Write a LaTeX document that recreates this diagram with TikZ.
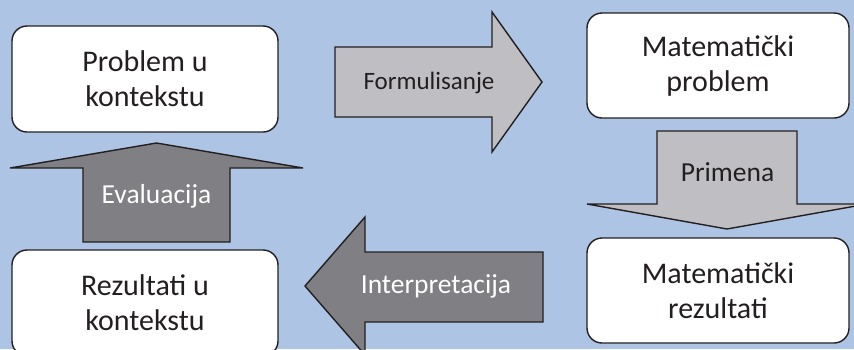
\documentclass[tikz,border=0pt]{standalone}
\usepackage{fontspec}
\setmainfont{Carlito}
\usepackage{xcolor}
\usetikzlibrary{arrows.meta}
\usetikzlibrary{positioning}

\definecolor{bgblue}{RGB}{173,196,229}
\definecolor{lightarr}{RGB}{191,191,195}
\definecolor{darkarr}{RGB}{128,128,132}
\definecolor{txtdark}{RGB}{35,31,32}

\begin{document}
\begin{tikzpicture}[x=1pt, y=-1pt, >=Latex]
		\tikzset{
			box/.style={rounded corners=15pt, draw=txtdark, line width=1.4pt, fill=white, text=txtdark, align=center, font=\fontsize{30}{35}\selectfont},
			lightblk/.style={draw=txtdark, line width=1.4pt, fill=lightarr},
			darkblk/.style={draw=txtdark, line width=1.4pt, fill=darkarr},
			lbl/.style={anchor=base, inner sep=0pt, font=\fontsize{27.5}{32}\selectfont},
		}
		\useasboundingbox (0,0) rectangle (854,349);
		\clip (0,0) rectangle (854,349);
		\fill[bgblue] (0,0) rectangle (854,349);
		
		% the four boxes
		\node[box, minimum width=266pt, minimum height=106pt] (PK) at (145,79) {Problem u\\kontekstu};
		\node[box, minimum width=262pt, minimum height=105pt] (MP) at (718,65.5) {Matematički\\problem};
		\node[box, minimum width=262pt, minimum height=105pt] (MR) at (718,290.5) {Matematički\\rezultati};
		\node[box, minimum width=266pt, minimum height=106pt] (RK) at (145,303) {Rezultati u\\kontekstu};
		
		% block arrows
		\draw[lightblk] (335,47) -- (492,47) -- (492,12) -- (542,82) -- (492,152) -- (492,117) -- (335,117) -- cycle;
		\node[lbl, text=txtdark, font=\fontsize{25}{30}\selectfont] (formul) at (429,89) {Formulisanje};
		
		\draw[lightblk] (657,131) -- (797,131) -- (797,204) -- (867,204) -- (727,229) -- (587,204) -- (657,204) -- cycle;
		\node[lbl, text=txtdark] (primena) at (727.5,181) {Primena};
		
		\draw[darkblk] (543,252) -- (365,252) -- (365,217) -- (305,286) -- (365,355) -- (365,322) -- (543,322) -- cycle;
		\node[lbl, text=white] (interp) at (436,293) {Interpretacija};
		
		\draw[darkblk] (83,242) -- (83,168) -- (10,168) -- (156.5,143) -- (303,168) -- (230,168) -- (230,242) -- cycle;
		\node[lbl, text=white] (eval) at (156.5,203) {Evaluacija};
	\end{tikzpicture}
\end{document}
